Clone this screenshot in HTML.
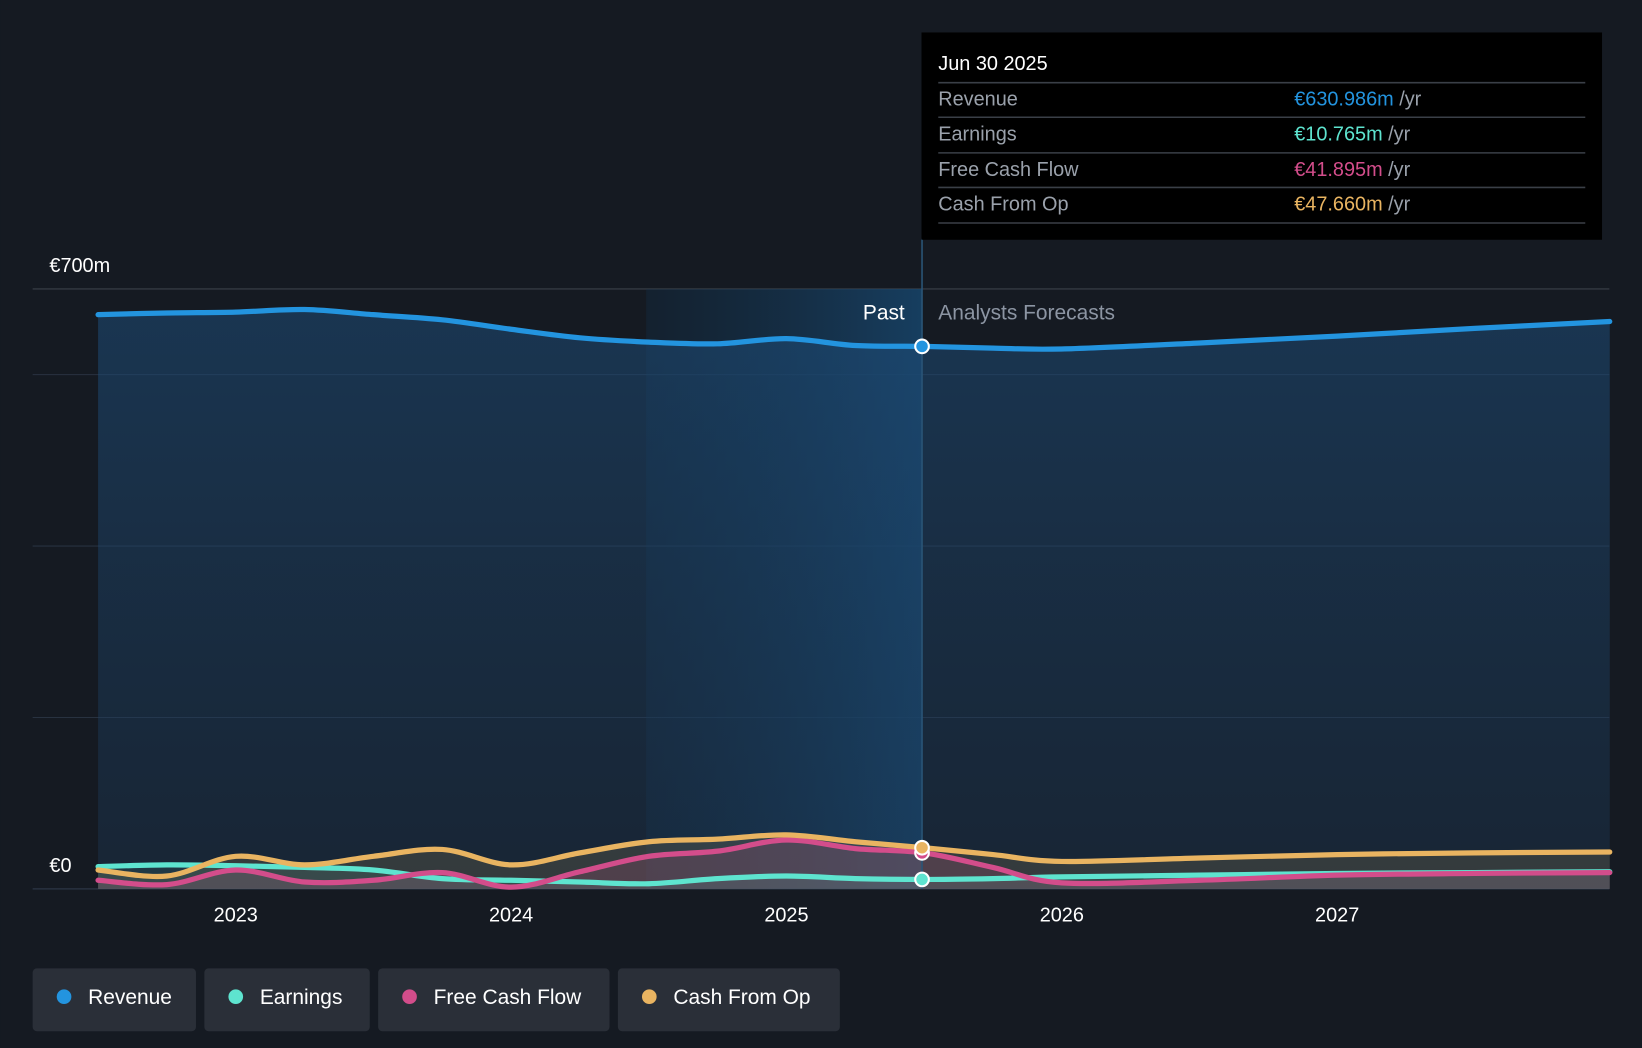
<!DOCTYPE html>
<html><head><meta charset="utf-8">
<style>
html,body{margin:0;padding:0;background:#151a22;}
svg{display:block;font-family:"Liberation Sans",sans-serif;}
</style></head>
<body>
<svg id="chart" width="1642" height="1048" viewBox="0 0 1568 1001" xmlns="http://www.w3.org/2000/svg">
<defs>
<linearGradient id="revFill" x1="0" y1="0" x2="0" y2="1">
<stop offset="0" stop-color="#1d4c78" stop-opacity="0.55"/>
<stop offset="1" stop-color="#1d3a58" stop-opacity="0.35"/>
</linearGradient>
<linearGradient id="pastFill" x1="0" y1="0" x2="1" y2="0">
<stop offset="0" stop-color="#12324e" stop-opacity="0.3"/>
<stop offset="1" stop-color="#17476f" stop-opacity="0.8"/>
</linearGradient>
</defs>
<rect width="1568" height="1001" fill="#151a22"/>
<g id="grid"></g>
<rect x="617" y="276" width="263" height="573" fill="url(#pastFill)"/>
<g id="areas"></g>
<g id="lines"></g>
<line x1="880.5" y1="228" x2="880.5" y2="849" stroke="#2a5577" stroke-width="1.5"/>
<text x="864" y="305" fill="#ffffff" font-size="20" text-anchor="end">Past</text>
<text x="896" y="305" fill="#8c95a3" font-size="20">Analysts Forecasts</text>
<g id="axes"></g>
<g id="markers"></g>

<g>
<rect x="880" y="31" width="650" height="198" fill="#000000"/>
<text x="896" y="67" fill="#ffffff" font-size="19">Jun 30 2025</text>
<line x1="896" y1="79" x2="1514" y2="79" stroke="#3a3f47" stroke-width="1.5"/>
<text x="896" y="101" fill="#9aa1ab" font-size="19">Revenue</text>
<text x="1236" y="101" font-size="19"><tspan fill="#2394df">€630.986m</tspan><tspan fill="#9aa1ab"> /yr</tspan></text>
<line x1="896" y1="112" x2="1514" y2="112" stroke="#3a3f47" stroke-width="1.5"/>
<text x="896" y="134" fill="#9aa1ab" font-size="19">Earnings</text>
<text x="1236" y="134" font-size="19"><tspan fill="#5ee4cf">€10.765m</tspan><tspan fill="#9aa1ab"> /yr</tspan></text>
<line x1="896" y1="146" x2="1514" y2="146" stroke="#3a3f47" stroke-width="1.5"/>
<text x="896" y="168" fill="#9aa1ab" font-size="19">Free Cash Flow</text>
<text x="1236" y="168" font-size="19"><tspan fill="#d34d8b">€41.895m</tspan><tspan fill="#9aa1ab"> /yr</tspan></text>
<line x1="896" y1="179" x2="1514" y2="179" stroke="#3a3f47" stroke-width="1.5"/>
<text x="896" y="201" fill="#9aa1ab" font-size="19">Cash From Op</text>
<text x="1236" y="201" font-size="19"><tspan fill="#e9b461">€47.660m</tspan><tspan fill="#9aa1ab"> /yr</tspan></text>
<line x1="896" y1="213" x2="1514" y2="213" stroke="#3a3f47" stroke-width="1.5"/>
</g>

<g>
<g>
<rect x="31" y="925" width="156" height="60" rx="4" fill="#2a2f38"/>
<circle cx="61" cy="952" r="7" fill="#2394df"/>
<text x="84" y="959" fill="#ffffff" font-size="20">Revenue</text>
</g>
<g>
<rect x="195" y="925" width="158" height="60" rx="4" fill="#2a2f38"/>
<circle cx="225" cy="952" r="7" fill="#5ee4cf"/>
<text x="248" y="959" fill="#ffffff" font-size="20">Earnings</text>
</g>
<g>
<rect x="361" y="925" width="221" height="60" rx="4" fill="#2a2f38"/>
<circle cx="391" cy="952" r="7" fill="#d34d8b"/>
<text x="414" y="959" fill="#ffffff" font-size="20">Free Cash Flow</text>
</g>
<g>
<rect x="590" y="925" width="212" height="60" rx="4" fill="#2a2f38"/>
<circle cx="620" cy="952" r="7" fill="#e9b461"/>
<text x="643" y="959" fill="#ffffff" font-size="20">Cash From Op</text>
</g>
</g>
</svg>
<script>
const years = [2022.5,2022.75,2023,2023.25,2023.5,2023.75,2024,2024.25,2024.5,2024.75,2025,2025.25,2025.5,2025.75,2026,2026.5,2027,2027.5,2027.99];
const revenue = [670,672,673,676,670,664,653,643,638,636,642,634,633,631,630,637,645,654,662];
const earnings = [26,28,27,25,22,12,10,8,6,12,15,12,11,12,14,16,18,19,20];
const freeCashFlow = [10,5,22,8,10,19,2,20,38,44,57,47,42,25,7,10,16,18,19];
const cashFromOp = [22,15,38,28,38,46,28,42,55,58,63,55,48,40,32,36,40,42,43];
const yTicks = [0,200,400,600,700];
const yLabels = ["€0","","","","€700m"];
const xTicks = [2023,2024,2025,2026,2027];

const NS="http://www.w3.org/2000/svg";
function xs(t){return 225+(t-2023)*263;}
function ys(v){return 849-v*(573/700);}
function mk(tag,attrs,parent){const e=document.createElementNS(NS,tag);for(const k in attrs)e.setAttribute(k,attrs[k]);parent.appendChild(e);return e;}
function pathD(vals){
  const p=years.map((t,i)=>[xs(t),ys(vals[i])]);
  let d="M"+p[0][0]+","+p[0][1];
  for(let i=0;i<p.length-1;i++){
    const p0=p[Math.max(0,i-1)],p1=p[i],p2=p[i+1],p3=p[Math.min(p.length-1,i+2)];
    const c1=[p1[0]+(p2[0]-p0[0])/6,p1[1]+(p2[1]-p0[1])/6];
    const c2=[p2[0]-(p3[0]-p1[0])/6,p2[1]-(p3[1]-p1[1])/6];
    d+=" C"+c1[0]+","+c1[1]+" "+c2[0]+","+c2[1]+" "+p2[0]+","+p2[1];
  }
  return d;
}
const grid=document.getElementById("grid"),axes=document.getElementById("axes");
yTicks.forEach((v,i)=>{
  const l=mk("line",{x1:31,x2:1537,y1:ys(v),y2:ys(v),stroke:i==4?"#3a404a":"#283240","stroke-width":i==0?1.5:1},grid);
  
  
  if(yLabels[i]){
    const t=mk("text",{x:47,y:ys(v)-16,fill:"#ffffff","font-size":19},axes);
    t.textContent=yLabels[i];
    
    
  }
});
xTicks.forEach(yr=>{
  const t=mk("text",{x:xs(yr),y:880,fill:"#ffffff","font-size":19,"text-anchor":"middle"},axes);
  t.textContent=String(yr);
  
  
});
const series=[
  {name:"revenue",vals:revenue,color:"#2394df",fill:"url(#revFill)"},
  {name:"cash-from-op",vals:cashFromOp,color:"#e9b461",fill:"rgba(120,110,80,0.3)"},
  {name:"free-cash-flow",vals:freeCashFlow,color:"#d34d8b",fill:"rgba(160,80,120,0.25)"},
  {name:"earnings",vals:earnings,color:"#5ee4cf",fill:"rgba(90,200,180,0.12)"}
];
const areas=document.getElementById("areas"),lines=document.getElementById("lines"),markers=document.getElementById("markers");
series.forEach(s=>{
  const d=pathD(s.vals);
  const a=mk("path",{d:d+" L"+xs(years[years.length-1])+","+ys(0)+" L"+xs(years[0])+","+ys(0)+" Z",fill:s.fill},areas);
  
  
});
[series[3],series[2],series[1],series[0]].forEach(s=>{
  const l=mk("path",{d:pathD(s.vals),fill:"none",stroke:s.color,"stroke-width":5,"stroke-linecap":"round"},lines);
  
  
  const idx=years.indexOf(2025.5);
  const c=mk("circle",{cx:xs(2025.5)-2,cy:ys(s.vals[idx]),r:6.5,fill:s.color,stroke:"#ffffff","stroke-width":2},markers);
  
  
});
</script>
</body></html>
